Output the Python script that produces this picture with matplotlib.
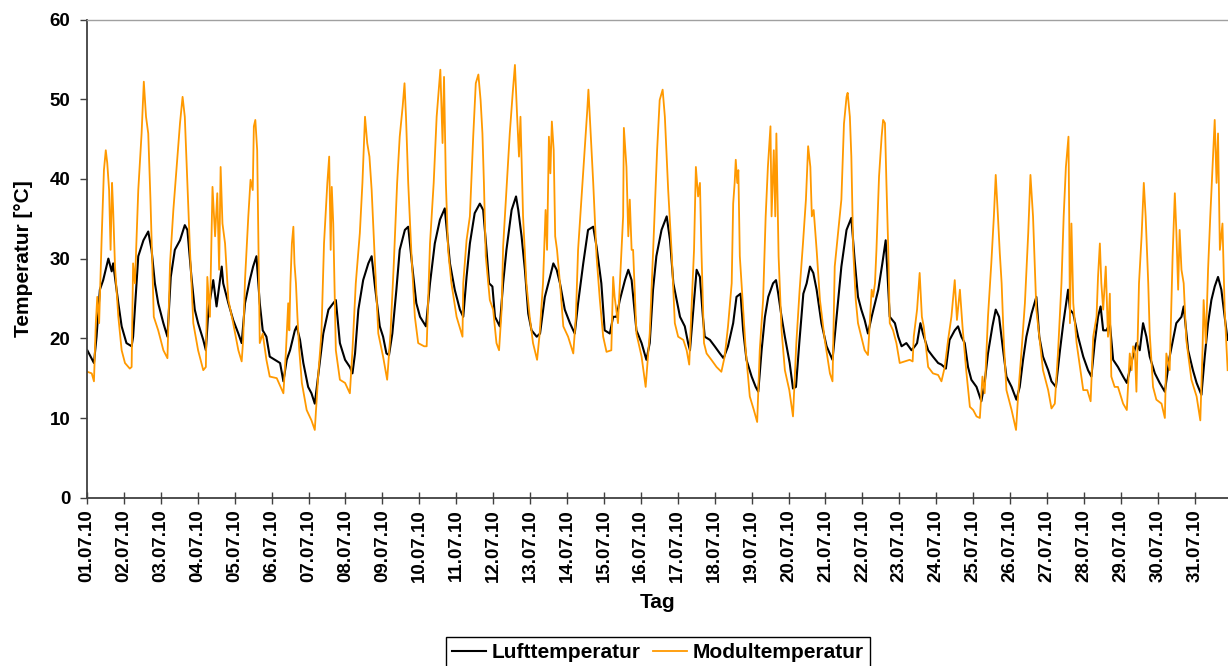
import matplotlib.pyplot as plt

plt.rcParams['font.family'] = ['Liberation Sans', 'DejaVu Sans']
plt.rcParams['font.weight'] = 'bold'

# x axis: days since 01.07.10 00:00
tage = ['01.07.10', '02.07.10', '03.07.10', '04.07.10', '05.07.10', '06.07.10',
        '07.07.10', '08.07.10', '09.07.10', '10.07.10', '11.07.10', '12.07.10',
        '13.07.10', '14.07.10', '15.07.10', '16.07.10', '17.07.10', '18.07.10',
        '19.07.10', '20.07.10', '21.07.10', '22.07.10', '23.07.10', '24.07.10',
        '25.07.10', '26.07.10', '27.07.10', '28.07.10', '29.07.10', '30.07.10',
        '31.07.10']

# Lufttemperatur
t_luft = [0.01, 0.19, 0.26, 0.35, 0.44, 0.58, 0.67, 0.71, 0.85, 0.94, 1.07, 1.21, 1.25, 1.39, 1.53, 1.66, 1.75, 1.84, 1.93,
          2.07, 2.18, 2.27, 2.38, 2.52, 2.65, 2.72, 2.83, 2.92, 3.01, 3.15, 3.22, 3.29, 3.42, 3.51, 3.65, 3.69, 3.83, 3.96,
          4.10, 4.19, 4.28, 4.41, 4.50, 4.59, 4.68, 4.76, 4.86, 4.95,
          5.23, 5.32, 5.41, 5.50, 5.63, 5.68, 5.77, 5.86, 5.99, 6.08, 6.17, 6.26, 6.40, 6.54, 6.67, 6.74, 6.85, 6.99,
          7.12, 7.19, 7.26, 7.35, 7.48, 7.62, 7.71, 7.80, 7.93, 8.02, 8.11, 8.18, 8.27, 8.38, 8.47, 8.61, 8.70, 8.81,
          8.92, 9.02, 9.18, 9.29, 9.42, 9.56, 9.69, 9.83, 9.96, 10.10, 10.19,
          10.28, 10.37, 10.50, 10.64, 10.73, 10.82, 10.89, 10.98, 11.05, 11.18, 11.27, 11.36, 11.50, 11.62, 11.68,
          11.77, 11.86, 11.95, 12.04, 12.18, 12.27, 12.40, 12.54, 12.63, 12.72, 12.81, 12.94, 13.08, 13.21, 13.30,
          13.44, 13.57, 13.71, 13.80, 13.93, 14.02, 14.16, 14.25, 14.34, 14.43, 14.57, 14.66, 14.75, 14.88, 15.02,
          15.15, 15.24,
          15.33, 15.42, 15.56, 15.70, 15.79, 15.88, 15.97, 16.06, 16.19, 16.28, 16.33, 16.42, 16.51, 16.60, 16.68,
          16.73, 16.87, 17.00, 17.14, 17.24, 17.36, 17.50, 17.59, 17.70, 17.77, 17.86, 18.00, 18.11, 18.18, 18.27,
          18.36, 18.45, 18.58, 18.66, 18.72, 18.81, 18.90, 19.03, 19.12, 19.20, 19.29, 19.40, 19.49, 19.58, 19.67,
          19.76, 19.89, 20.03, 20.19, 20.30, 20.43, 20.57, 20.64,
          20.70, 20.79, 20.88, 20.97, 21.06, 21.15, 21.25, 21.34, 21.43, 21.54, 21.63, 21.74, 21.88, 21.97, 22.06,
          22.19, 22.33, 22.42, 22.48, 22.57, 22.64, 22.78, 22.91, 23.05, 23.14, 23.26, 23.36, 23.50, 23.59, 23.68,
          23.77, 23.86, 23.95, 24.09, 24.22, 24.31, 24.40, 24.52, 24.61, 24.70, 24.81, 24.90, 25.04, 25.17, 25.26,
          25.35, 25.44, 25.58, 25.71,
          25.79, 25.89, 26.03, 26.12, 26.24, 26.35, 26.44, 26.57, 26.62, 26.71, 26.84, 26.98, 27.11, 27.20, 27.29,
          27.38, 27.45, 27.52, 27.61, 27.70, 27.79, 27.92, 28.06, 28.16, 28.28, 28.42, 28.51, 28.60, 28.69, 28.78,
          28.92, 29.05, 29.19, 29.32, 29.41, 29.50, 29.64, 29.70, 29.82, 29.95, 30.05, 30.18, 30.27, 30.36, 30.45,
          30.54, 30.63, 30.72, 30.81, 30.89]
luft = [18.5, 16.9, 20.2, 26.1, 27.3, 30.0, 28.4, 29.4, 24.4, 21.5, 19.4, 19.0, 20.2, 30.3, 32.3, 33.4, 31.1, 26.9, 24.4,
        21.9, 20.2, 27.7, 31.1, 32.3, 34.2, 33.6, 27.7, 23.6, 21.9, 19.8, 18.5, 23.6, 27.3, 24.0, 29.0, 26.9, 24.4, 22.3,
        20.6, 19.4, 24.4, 27.3, 29.0, 30.3, 24.4, 21.0, 20.2, 17.7,
        16.9, 14.6, 17.3, 18.5, 21.0, 21.5, 19.8, 16.9, 13.9, 13.1, 11.8, 15.2, 20.6, 23.6, 24.4, 24.8, 19.4, 17.3,
        16.4, 15.6, 18.1, 23.6, 27.3, 29.4, 30.3, 26.5, 21.5, 20.2, 18.1, 17.9, 20.6, 26.1, 31.1, 33.6, 34.0, 29.0,
        24.4, 22.7, 21.5, 26.9, 31.9, 34.9, 36.3, 29.4, 26.1, 23.6, 22.7,
        27.7, 31.9, 35.7, 36.9, 36.1, 31.1, 26.9, 26.5, 22.7, 21.5, 26.9, 31.1, 36.1, 37.8, 36.1,
        32.8, 28.6, 23.1, 21.0, 20.2, 20.6, 25.2, 27.7, 29.4, 28.6, 26.9, 23.6, 21.9, 20.6, 24.4,
        29.4, 33.6, 34.0, 31.5, 26.9, 21.0, 20.6, 22.7, 22.7, 24.8, 27.3, 28.6, 27.3, 21.0, 19.4,
        17.3, 19.4,
        26.1, 30.3, 33.6, 35.3, 32.3, 26.9, 24.8, 22.7, 21.5, 19.4, 18.5, 23.6, 28.6, 27.7, 22.7,
        20.2, 19.8, 19.0, 18.1, 17.5, 19.0, 21.9, 25.2, 25.6, 21.0, 17.3, 15.2, 13.9, 13.3, 18.5,
        22.7, 25.2, 26.9, 27.3, 25.6, 22.7, 20.2, 16.9, 13.7, 13.9, 19.4, 25.6, 26.9, 29.0, 28.2,
        26.1, 21.9, 19.0, 17.3, 22.7, 29.0, 33.6, 34.4,
        35.1, 29.8, 25.2, 23.6, 22.3, 20.6, 22.7, 24.4, 26.1, 29.4, 32.3, 22.7, 21.9, 20.2, 19.0,
        19.4, 18.5, 19.0, 19.4, 21.9, 20.6, 18.5, 17.7, 16.9, 16.7, 16.2, 19.8, 21.0, 21.5, 20.2,
        19.4, 16.4, 14.8, 13.9, 12.1, 14.4, 18.1, 21.5, 23.6, 22.7, 18.5, 15.2, 13.9, 12.3, 13.9,
        17.3, 20.2, 23.1, 25.2,
        20.2, 17.7, 16.0, 14.6, 13.9, 18.5, 21.9, 26.1, 23.6, 23.1, 20.2, 17.7, 16.0, 15.2, 19.4,
        22.7, 24.0, 21.0, 21.0, 21.9, 17.3, 16.4, 15.2, 14.4, 16.9, 19.4, 18.5, 21.9, 20.2, 17.7,
        15.6, 14.4, 13.3, 17.7, 19.8, 21.9, 22.7, 24.0, 18.5, 16.0, 14.4, 12.9, 17.7, 21.9, 24.8,
        26.5, 27.7, 26.1, 22.7, 19.8]

# Modultemperatur
t_modul = [0.01, 0.13, 0.19, 0.24, 0.28, 0.33, 0.40, 0.46, 0.51, 0.55, 0.60, 0.64, 0.68, 0.71, 0.76, 0.85, 0.94, 1.03,
           1.16, 1.21, 1.25, 1.30, 1.39, 1.48, 1.54, 1.60, 1.66, 1.72, 1.81, 1.93, 2.07, 2.18, 2.25, 2.34, 2.43, 2.52,
           2.59, 2.65, 2.72, 2.79, 2.88, 3.01, 3.15, 3.22, 3.26, 3.33, 3.40, 3.47, 3.53, 3.58, 3.62, 3.67, 3.74, 3.83,
           3.96, 4.10, 4.19, 4.23, 4.28, 4.37, 4.43, 4.49, 4.52, 4.56, 4.61, 4.65, 4.68, 4.76, 4.86, 4.95,
           5.14, 5.32, 5.39, 5.45, 5.48, 5.51, 5.55, 5.59, 5.62, 5.66, 5.70, 5.75, 5.82, 5.95, 6.08, 6.17, 6.26, 6.35,
           6.42, 6.47, 6.51, 6.56, 6.60, 6.63, 6.67, 6.74, 6.85, 6.99, 7.12, 7.19, 7.28, 7.39, 7.46, 7.53, 7.59, 7.65,
           7.71, 7.80, 7.89, 8.02, 8.13, 8.22, 8.31, 8.40, 8.47, 8.55, 8.60, 8.64, 8.70, 8.79, 8.88, 8.97, 9.13, 9.20,
           9.29, 9.39, 9.47, 9.54, 9.57, 9.63, 9.67, 9.72, 9.78, 9.87, 10.01, 10.17,
           10.19, 10.28, 10.37, 10.46, 10.53, 10.60, 10.66, 10.71, 10.75, 10.80, 10.91, 11.00, 11.09, 11.16, 11.23,
           11.27, 11.36, 11.45, 11.53, 11.59, 11.65, 11.70, 11.74, 11.81, 11.90, 11.99, 12.08, 12.19, 12.26, 12.35,
           12.42, 12.46, 12.51, 12.55, 12.59, 12.64, 12.68, 12.73, 12.81, 12.90, 13.03, 13.17, 13.24, 13.30, 13.39,
           13.48, 13.55, 13.58, 13.64, 13.71, 13.80, 13.89, 13.98, 14.07, 14.20, 14.25, 14.29, 14.38, 14.52, 14.54,
           14.61, 14.66, 14.70, 14.75, 14.79, 14.88, 15.02, 15.13, 15.24, 15.33, 15.44, 15.51,
           15.59, 15.65, 15.70, 15.74, 15.83, 15.92, 16.01, 16.15, 16.24, 16.31, 16.37, 16.44, 16.49, 16.55, 16.60,
           16.64, 16.71, 16.78, 16.91, 17.05, 17.18, 17.27, 17.36, 17.46, 17.50, 17.54, 17.57, 17.61, 17.64, 17.68,
           17.75, 17.84, 17.95, 18.06, 18.15, 18.22, 18.31, 18.38, 18.44, 18.51, 18.54, 18.60, 18.64, 18.67, 18.73,
           18.81, 18.90, 19.02, 19.12, 19.21, 19.30, 19.39, 19.47, 19.53, 19.59, 19.63, 19.68, 19.76, 19.85, 19.98,
           20.12, 20.19, 20.25, 20.34, 20.43, 20.50, 20.57,
           20.60, 20.66, 20.70, 20.75, 20.82, 20.88, 20.97, 21.06, 21.15, 21.25, 21.29, 21.34, 21.38, 21.45, 21.52,
           21.56, 21.61, 21.65, 21.70, 21.74, 21.83, 21.92, 22.01, 22.15, 22.28, 22.36, 22.39, 22.48, 22.55, 22.61,
           22.66, 22.78, 22.91, 23.05, 23.14, 23.23, 23.32, 23.41, 23.50, 23.56, 23.64, 23.71, 23.81, 23.91, 24.00,
           24.09, 24.18, 24.25, 24.31, 24.40, 24.49, 24.56, 24.61, 24.67, 24.72, 24.77, 24.83, 24.90, 25.04, 25.16,
           25.22, 25.31, 25.40, 25.49, 25.55, 25.62, 25.71,
           25.89, 26.03, 26.12, 26.21, 26.30, 26.39, 26.45, 26.51, 26.58, 26.60, 26.62, 26.66, 26.71, 26.80, 26.89,
           26.98, 27.09, 27.18, 27.25, 27.34, 27.38, 27.43, 27.47, 27.52, 27.59, 27.65, 27.70, 27.74, 27.83, 27.92,
           28.06, 28.16, 28.24, 28.29, 28.33, 28.38, 28.42, 28.49, 28.56, 28.62, 28.67, 28.74, 28.78, 28.87, 28.96,
           29.10, 29.19, 29.23, 29.32, 29.40, 29.46, 29.50, 29.55, 29.59, 29.64, 29.70, 29.77, 29.91, 30.05, 30.15,
           30.21, 30.24, 30.30, 30.36, 30.42, 30.48, 30.54, 30.59, 30.63, 30.68, 30.75, 30.81, 30.89]
modul = [15.8, 15.6, 14.6, 21.9, 25.2, 21.9, 32.8, 41.1, 43.6, 42.0, 38.6, 31.1, 39.5, 36.1, 29.0, 22.7, 18.5, 16.9,
         16.2, 16.4, 29.4, 26.9, 38.6, 45.7, 52.2, 47.8, 45.7, 37.4, 22.7, 21.0, 18.5, 17.5, 29.4, 36.1, 41.5, 47.0,
         50.3, 47.8, 39.5, 31.1, 21.9, 18.5, 16.0, 16.4, 27.7, 22.7, 39.0, 32.8, 38.2, 28.6, 41.5, 34.4, 31.9, 24.8,
         21.9, 18.5, 17.1, 19.8, 27.3, 35.3, 39.9, 38.6, 46.6, 47.4, 43.6, 30.3, 19.4, 20.6, 17.3, 15.2,
         15.0, 13.1, 18.5, 24.4, 21.0, 26.9, 31.9, 34.0, 29.4, 26.9, 22.7, 18.5, 14.4, 11.0, 9.7, 8.5, 15.2, 20.6,
         31.9, 36.1, 39.5, 42.8, 31.1, 39.0, 34.4, 18.5, 14.8, 14.4, 13.1, 18.5, 26.9, 33.2, 39.5, 47.8, 44.5, 42.8,
         38.6, 29.4, 20.6, 17.7, 14.8, 20.6, 29.4, 39.5, 45.3, 49.1, 52.0, 47.8, 39.5, 30.3, 22.7, 19.4, 19.0, 19.0,
         31.9, 39.5, 47.8, 52.0, 53.7, 44.5, 52.8, 39.5, 31.1, 26.9, 22.7, 20.2,
         26.9, 32.3, 35.3, 45.3, 52.0, 53.1, 49.9, 45.7, 39.5, 30.3, 24.8, 23.6, 19.4, 18.5, 23.6,
         31.5, 38.6, 45.7, 50.8, 54.3, 47.8, 42.8, 47.8, 35.3, 26.9, 22.7, 19.4, 17.3, 20.6, 26.9,
         36.1, 31.1, 45.3, 40.7, 47.2, 43.6, 32.8, 31.1, 26.9, 21.5, 20.2, 18.1, 22.7, 31.1, 37.4,
         43.6, 48.7, 51.2, 45.7, 39.5, 30.3, 24.8, 20.2, 18.3, 18.5, 27.7, 25.2, 21.9, 35.3, 46.4,
         41.5, 32.8, 37.4, 31.1, 31.1, 20.6, 17.7, 13.9, 20.6, 30.7, 43.6, 49.9,
         51.2, 47.8, 42.8, 38.6, 31.1, 21.9, 20.2, 19.8, 18.5, 16.7, 23.6, 31.1, 41.5, 37.8, 39.5,
         31.1, 19.4, 18.1, 17.3, 16.4, 15.8, 17.7, 21.5, 26.9, 36.9, 39.5, 42.4, 39.5, 41.1, 30.3,
         25.2, 18.5, 12.7, 11.0, 9.5, 18.5, 24.8, 35.3, 41.5, 46.6, 35.3, 43.6, 35.3, 45.7, 30.3,
         21.0, 16.0, 13.5, 10.2, 19.4, 26.1, 31.9, 37.4, 44.1, 41.5, 35.3, 36.1, 31.1, 24.8, 19.8,
         15.6, 14.6, 29.0, 33.2, 37.4, 46.9, 50.3,
         50.8, 47.8, 42.8, 31.1, 24.8, 21.9, 20.2, 18.5, 17.9, 26.1, 25.2, 26.9, 31.1, 40.3, 45.3,
         47.4, 47.0, 39.5, 31.1, 21.9, 21.0, 19.4, 16.9, 17.1, 17.3, 17.1, 20.2, 23.6, 28.2, 22.7,
         21.5, 16.4, 15.6, 15.4, 14.6, 16.4, 19.8, 22.7, 27.3, 22.3, 26.1, 21.5, 16.0, 11.4, 11.0,
         10.2, 10.0, 15.2, 13.1, 22.7, 29.4, 35.3, 40.5, 35.3, 30.7, 26.9, 19.4, 13.5, 11.0, 8.5,
         13.1, 18.5, 24.4, 33.2, 40.5, 35.3, 23.6,
         16.0, 13.5, 11.2, 11.8, 18.5, 26.9, 35.3, 41.5, 45.3, 35.3, 21.9, 34.4, 24.4, 19.4, 16.4,
         13.5, 13.5, 12.1, 20.2, 22.7, 27.7, 31.9, 26.9, 23.6, 29.0, 20.2, 25.6, 15.2, 13.9, 13.9,
         11.8, 11.0, 18.1, 16.0, 19.0, 18.1, 13.3, 26.9, 32.8, 39.5, 35.3, 26.9, 20.6, 13.9, 12.3,
         11.8, 10.0, 18.1, 16.0, 30.3, 38.2, 33.6, 26.1, 33.6, 28.6, 26.9, 19.8, 14.8, 12.7, 9.7,
         18.5, 24.8, 19.4, 28.6, 35.3, 41.5, 47.4, 39.5, 45.7, 31.1, 34.4, 23.6, 16.0]

fig = plt.figure(figsize=(12.28, 6.66), dpi=100)
ax = fig.add_axes([0.0708, 0.2527, 0.9292, 0.718])

ax.plot(t_luft, luft, color='black', linewidth=1.5, label='Lufttemperatur')
ax.plot(t_modul, modul, color='#FF9900', linewidth=1.3, label='Modultemperatur')

ax.set_xlim(0, 30.9)
ax.set_ylim(0, 60)
ax.set_yticks(range(0, 61, 10))
ax.set_xticks(range(len(tage)))
ax.set_xticklabels(tage, rotation=90)

for side in ['left', 'bottom']:
    ax.spines[side].set_color('#404040')
    ax.spines[side].set_linewidth(1.3)
ax.spines['top'].set_color('#a0a0a0')
ax.spines['top'].set_linewidth(1.0)
ax.spines['right'].set_visible(False)

ax.tick_params(axis='y', direction='out', length=5, width=1, color='#404040',
               labelsize=13.5, pad=7)
ax.tick_params(axis='x', direction='inout', length=9, width=1, color='#404040',
               labelsize=13.5, pad=4)

ax.set_ylabel('Temperatur [°C]', fontsize=15, fontweight='bold', labelpad=12)
ax.set_xlabel('Tag', fontsize=15, fontweight='bold', labelpad=8)

leg = fig.legend(loc='upper center', bbox_to_anchor=(0.536, 1 - 637 / 666), ncol=2,
                 frameon=True, fancybox=False, edgecolor='black', framealpha=1,
                 fontsize=15, handlelength=1.6, handletextpad=0.3, columnspacing=0.6,
                 borderpad=0.3, borderaxespad=0)
leg.get_frame().set_linewidth(1.0)

fig.savefig('out.png', dpi=100)
